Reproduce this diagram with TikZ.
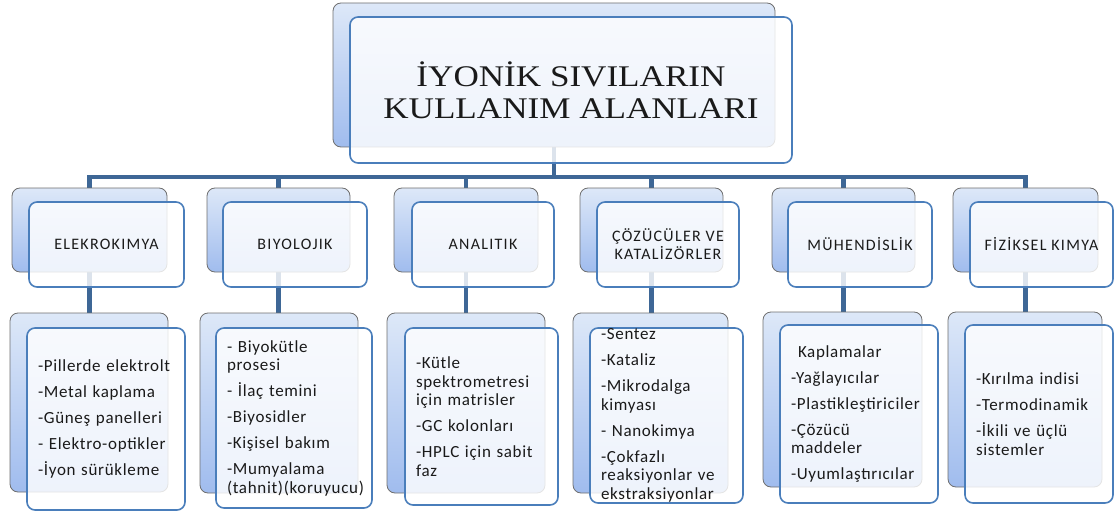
\documentclass[tikz,border=0pt]{standalone}
\usepackage{fontspec}
\newfontfamily\bodyfont[LetterSpace=4]{Carlito}
\newfontfamily\labelfont[LetterSpace=8]{Carlito}
\newfontfamily\titlefont[FakeStretch=1.17]{Liberation Serif}
\definecolor{connblue}{HTML}{3E6796}
\definecolor{frontblue}{HTML}{4A7EBB}
\definecolor{backtop}{HTML}{DDE8F8}
\definecolor{backbot}{HTML}{A0BCEE}
\definecolor{backedge}{HTML}{6E6E6E}
\definecolor{inktext}{HTML}{1A1A1A}
\pgfdeclarelayer{bg}
\pgfsetlayers{bg,main}
\begin{document}
\begin{tikzpicture}[x=1pt,y=-1pt,
  backbox/.style={rectangle, rounded corners=8pt, draw=backedge, line width=0.8pt,
    top color=backtop, bottom color=backbot, inner sep=0pt},
  frontbox/.style={rectangle, rounded corners=8pt, draw=frontblue, line width=1.6pt,
    fill=white, fill opacity=0.82, draw opacity=1, text opacity=1, text=inktext},
  titlebox/.style={frontbox, align=center, font=\titlefont\fontsize{30}{32}\selectfont},
  labelbox/.style={frontbox, align=center, minimum height=85pt, inner sep=2pt,
    font=\labelfont\fontsize{16}{18}\selectfont},
  listbox/.style={frontbox, align=left, inner xsep=11pt, inner ysep=0pt,
    font=\bodyfont\fontsize{17}{18.5}\selectfont},
  conn/.style={draw=connblue, line width=4.2pt}
]
\useasboundingbox (0,0) rectangle (1115,513);

% title
\node[backbox, minimum width=442pt, minimum height=144pt] (tb) at (554,75) {};
\node[titlebox, minimum width=442pt, minimum height=146pt] (tf) at (571,90)
  {İYONİK SIVILARIN\\KULLANIM ALANLARI};

% level 1 back boxes
\node[backbox, minimum width=155pt, minimum height=84pt] (e1b) at (89.5,230) {};
\node[backbox, minimum width=143pt, minimum height=84pt] (b1b) at (278.5,230) {};
\node[backbox, minimum width=144pt, minimum height=84pt] (a1b) at (466,230) {};
\node[backbox, minimum width=143pt, minimum height=84pt] (c1b) at (651.5,230) {};
\node[backbox, minimum width=143pt, minimum height=84pt] (m1b) at (843.5,230) {};
\node[backbox, minimum width=145pt, minimum height=84pt] (f1b) at (1025.5,230) {};

% level 1 front boxes
\node[labelbox, minimum width=155pt] (e1f) at (106.5,244.5) {ELEKROKIMYA};
\node[labelbox, minimum width=144pt] (b1f) at (295,244.5) {BIYOLOJIK};
\node[labelbox, minimum width=142pt] (a1f) at (483,244.5) {ANALITIK};
\node[labelbox, minimum width=142pt] (c1f) at (668,244.5) {ÇÖZÜCÜLER VE\\KATALİZÖRLER};
\node[labelbox, minimum width=144pt] (m1f) at (860,244.5) {MÜHENDİSLİK};
\node[labelbox, minimum width=143pt] (f1f) at (1041.5,244.5) {FİZİKSEL KIMYA};

% level 2 back boxes
\node[backbox, minimum width=158pt, minimum height=179pt] (e2b) at (89,402.5) {};
\node[backbox, minimum width=158pt, minimum height=180pt] (b2b) at (279,403) {};
\node[backbox, minimum width=158pt, minimum height=180pt] (a2b) at (466,403) {};
\node[backbox, minimum width=155pt, minimum height=180pt] (c2b) at (650.5,403) {};
\node[backbox, minimum width=159pt, minimum height=175pt] (m2b) at (842.5,399.5) {};
\node[backbox, minimum width=154pt, minimum height=175pt] (f2b) at (1025,399.5) {};

% level 2 front boxes
\node[listbox, text width=136pt, minimum height=182pt] (e2f) at (106,419)
  {-Pillerde elektrolt\\[7.5pt]-Metal kaplama\\[7.5pt]-Güneş panelleri\\[7.5pt]- Elektro-optikler\\[7.5pt]-İyon sürükleme};
\node[listbox, text width=134pt, minimum height=180pt] (b2f) at (294,418)
  {- Biyokütle\\prosesi\\[7.5pt]- İlaç temini\\[7.5pt]-Biyosidler\\[7.5pt]-Kişisel bakım\\[7.5pt]-Mumyalama\\(tahnit)(koruyucu)};
\node[listbox, text width=131pt, minimum height=177pt] (a2f) at (481.5,416.5)
  {-Kütle\\spektrometresi\\için matrisler\\[7.5pt]-GC kolonları\\[7.5pt]-HPLC için sabit\\faz};
\node[listbox, text width=131pt, minimum height=175pt] (c2f) at (666.5,415.5)
  {-Sentez\\[7.5pt]-Kataliz\\[7.5pt]-Mikrodalga\\kimyası\\[7.5pt]- Nanokimya\\[7.5pt]-Çokfazlı\\reaksiyonlar ve\\ekstraksiyonlar};
\node[listbox, text width=136pt, minimum height=178pt] (m2f) at (859,414)
  {\hspace*{7pt}Kaplamalar\\[7.5pt]-Yağlayıcılar\\[7.5pt]-Plastikleştiriciler\\[7.5pt]-Çözücü\\maddeler\\[7.5pt]-Uyumlaştırıcılar};
\node[listbox, text width=126pt, minimum height=178pt] (f2f) at (1039,414)
  {-Kırılma indisi\\[7.5pt]-Termodinamik\\[7.5pt]-İkili ve üçlü\\sistemler};

% connectors
\begin{pgfonlayer}{bg}
\coordinate (bus) at (0,177);
\draw[conn] (tb.south) -- (tb.south |- bus);
\draw[conn] (e1b.north) |- (f1b.north |- bus) -- (f1b.north);
\foreach \n in {b1b,a1b,c1b,m1b}
  \draw[conn] (\n.north) -- (\n.north |- bus);
\foreach \u/\l in {e1b/e2b,b1b/b2b,a1b/a2b,c1b/c2b,m1b/m2b,f1b/f2b}
  \draw[conn] (\u.south) -- (\u.south |- \l.north);
\end{pgfonlayer}
\end{tikzpicture}
\end{document}
